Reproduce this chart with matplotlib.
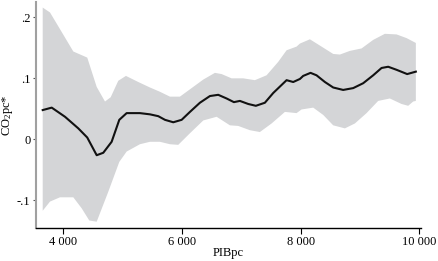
import matplotlib
matplotlib.use("Agg")
import matplotlib.pyplot as plt
from matplotlib.ticker import FuncFormatter

# -----------------
# DATA
# -----------------
x_line = [3653, 3805, 4029, 4253, 4404, 4563, 4674, 4815, 4944, 5068, 5292, 5461,
          5601, 5714, 5854, 5995, 6135, 6303, 6472, 6612, 6753, 6876, 6977, 7117,
          7246, 7398, 7539, 7764, 7876, 7989, 8044, 8168, 8269, 8410, 8550, 8718,
          8887, 9055, 9224, 9365, 9477, 9618, 9797, 9943]
y_line = [0.048, 0.052, 0.037, 0.018, 0.003, -0.026, -0.022, -0.004, 0.032, 0.043, 0.043, 0.041,
          0.038, 0.032, 0.028, 0.032, 0.045, 0.060, 0.071, 0.073, 0.067, 0.061, 0.063, 0.058,
          0.055, 0.060, 0.076, 0.097, 0.094, 0.099, 0.104, 0.109, 0.105, 0.094, 0.085, 0.081,
          0.084, 0.092, 0.105, 0.117, 0.119, 0.114, 0.107, 0.111]

x_upper = [3653, 3776, 3973, 4169, 4404, 4563, 4703, 4799, 4927, 5056, 5264, 5461,
           5629, 5798, 5966, 6135, 6360, 6556, 6669, 6837, 7033, 7230, 7427, 7623,
           7764, 7932, 7989, 8157, 8354, 8550, 8663, 8831, 9028, 9224, 9421, 9618,
           9786, 9943]
y_upper = [0.216, 0.208, 0.176, 0.144, 0.134, 0.086, 0.062, 0.069, 0.096, 0.104, 0.094, 0.085,
           0.078, 0.070, 0.070, 0.082, 0.098, 0.109, 0.107, 0.100, 0.100, 0.097, 0.105, 0.127,
           0.146, 0.152, 0.157, 0.164, 0.152, 0.140, 0.139, 0.145, 0.149, 0.163, 0.173, 0.172,
           0.166, 0.158]

x_lower = [3653, 3776, 3944, 4169, 4310, 4438, 4563, 4758, 4944, 5068, 5292, 5461,
           5629, 5798, 5938, 6135, 6360, 6585, 6809, 6949, 7146, 7314, 7511, 7736,
           7932, 8017, 8213, 8382, 8550, 8747, 8915, 9112, 9308, 9505, 9702, 9814,
           9898, 9943]
y_lower = [-0.117, -0.102, -0.095, -0.095, -0.113, -0.133, -0.135, -0.086, -0.037, -0.020, -0.008, -0.004,
           -0.004, -0.008, -0.009, 0.010, 0.031, 0.037, 0.023, 0.022, 0.015, 0.012, 0.026, 0.045,
           0.043, 0.049, 0.052, 0.040, 0.023, 0.018, 0.026, 0.043, 0.063, 0.067, 0.058, 0.055,
           0.062, 0.063]

x_ticks = [4000, 6000, 8000, 10000]
y_ticks = [-0.1, 0, 0.1, 0.2]

# -----------------
# STYLE
# -----------------
plt.rcParams["font.family"] = ["Liberation Serif", "DejaVu Serif"]
plt.rcParams["mathtext.fontset"] = "custom"
plt.rcParams["mathtext.rm"] = "Liberation Serif"
plt.rcParams["mathtext.it"] = "Liberation Serif:italic"

fig = plt.figure(figsize=(4.39, 2.61), dpi=100)
ax = fig.add_axes([0.082, 0.126, 0.877, 0.866])

# confidence band as one polygon: upper edge then lower edge reversed
ax.fill(x_upper + x_lower[::-1], y_upper + y_lower[::-1],
        color="#d4d5d7", linewidth=0)
ax.plot(x_line, y_line, color="#111111", linewidth=1.5)

ax.set_xlim(3540, 10030)
ax.set_ylim(-0.1455, 0.225)

ax.set_xticks(x_ticks)
ax.set_yticks(y_ticks)
ax.xaxis.set_major_formatter(FuncFormatter(lambda v, p: f"{int(v):,}".replace(",", " ")))

def yfmt(v, p):
    if abs(v) < 1e-9:
        return "0"
    s = f"{v:.1f}"
    return s.replace("0.", ".")

ax.yaxis.set_major_formatter(FuncFormatter(yfmt))

for s in ["top", "right"]:
    ax.spines[s].set_visible(False)
ax.spines["left"].set_color("#a0a0a0")
ax.spines["left"].set_linewidth(1.5)
ax.spines["bottom"].set_color("black")
ax.spines["bottom"].set_linewidth(1.0)

ax.tick_params(axis="x", direction="out", length=4, width=0.8, labelsize=9, pad=2)
ax.tick_params(axis="y", direction="out", length=2, width=0.8, color="#555555",
               labelsize=9, pad=2)

ax.set_xlabel("PIBpc", fontsize=9, labelpad=-1)
ax.set_ylabel("CO$_2$pc*", fontsize=9, labelpad=1)

fig.savefig("out.png", dpi=100)
